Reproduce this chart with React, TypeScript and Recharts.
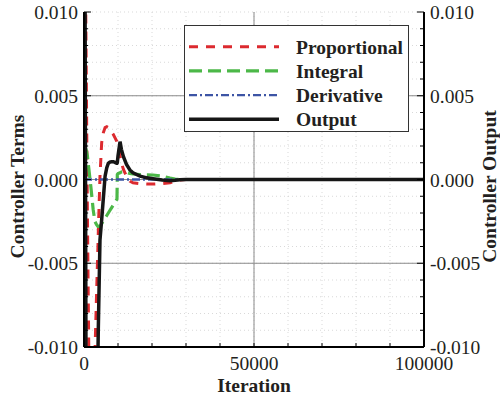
import React from 'react';
import { LineChart, Line, XAxis, YAxis, CartesianGrid, ReferenceLine, Legend } from 'recharts';

// ---------- data ----------
const iterations = [
  0, 300, 600, 1000, 1500, 2000, 2700, 3200, 3700, 4100, 4200, 4700, 5200, 5700, 6200, 6700,
  7150, 7600, 8100, 8600, 9100, 9600, 9700, 9800, 10000, 10600, 11000, 11600, 12500, 13500,
  14400, 16500, 18500, 20300, 23000, 25300, 26800, 28200, 30000, 40000, 50000, 60000, 70000,
  80000, 90000, 100000,
];
const proportional = [
  0.02, 0.015, 0.008, -0.002, -0.012, -0.02, -0.02, -0.0105, -0.0068, -0.004, -0.0032, 0.0002,
  0.0022, 0.0028, 0.0031, 0.00315, 0.0031, 0.003, 0.00285, 0.0027, 0.0025, 0.0023, 0.0022,
  0.0021, 0.002, 0.0014, 0.001, 0.0006, 0.0002, -0.0001, -0.0002, -0.00025, -0.00027, -0.00027,
  -0.00024, -0.0002, -0.0001, -0.00003, 0, 0, 0, 0, 0, 0, 0, 0,
];
const integral = [
  0.0019, 0.0019, 0.0018, 0.0014, 0.0005, -0.0004, -0.0018, -0.0025, -0.0027, -0.0028, -0.0028,
  -0.0028, -0.00264, -0.00247, -0.00231, -0.00215, -0.002, -0.00185, -0.00169, -0.00153,
  -0.00136, -0.0012, -0.00117, 0.0003, 0.00035, 0.0004, 0.00045, 0.00047, 0.00042, 0.00036,
  0.00033, 0.0003, 0.00028, 0.00027, 0.0002, 0.00008, 0.00002, 0, 0, 0, 0, 0, 0, 0, 0, 0,
];
const derivative = [
  0, 0, 0, 0, 0, 0, 0, 0, 0, 0, 0, 0, 0, 0, 0, 0, 0, 0, 0, 0, 0, 0, 0, 0, 0, 0, 0, 0, 0, 0,
  0, 0, 0, 0, 0, 0, 0, 0, 0, 0, 0, 0, 0, 0, 0, 0,
];
const output = [
  0.03, 0.012, -0.012, -0.03, -0.03, -0.03, -0.03, -0.03, -0.03, -0.0105, -0.009, -0.0036,
  -0.0024, -0.0011, 0.0002, 0.0007, 0.00097, 0.00104, 0.00106, 0.00106, 0.00102, 0.00097,
  0.00097, 0.001, 0.0014, 0.00226, 0.0018, 0.00136, 0.0009, 0.00057, 0.0004, 0.0002, 0.0001,
  0.00005, -0.00003, -0.00007, -0.00005, -0.00002, 0, 0, 0, 0, 0, 0, 0, 0,
];
const seriesNames = ['Proportional', 'Integral', 'Derivative', 'Output'];
const xTicks = [0, 10000, 20000, 30000, 40000, 50000, 60000, 70000, 80000, 90000, 100000];
const xLabelTicks = [0, 50000, 100000];
const yTicks = [
  -0.01, -0.009, -0.008, -0.007, -0.006, -0.005, -0.004, -0.003, -0.002, -0.001, 0, 0.001,
  0.002, 0.003, 0.004, 0.005, 0.006, 0.007, 0.008, 0.009, 0.01,
];
const yLabelTicks = [-0.01, -0.005, 0, 0.005, 0.01];

const data = iterations.map((it, i) => ({
  iter: it,
  p: proportional[i],
  i: integral[i],
  d: derivative[i],
  o: output[i],
}));

// ---------- styles ----------
const FONT = "'Liberation Serif', 'Times New Roman', serif";
const TEXT = '#231f20';
const RED = '#dc2a2f';
const GREEN = '#4cb848';
const BLUE = '#3d55a5';
const BLACK = '#161616';
const TICK_FS = 19.5;
const TITLE_FS = 19.5;

const series = [
  { key: 'p', name: seriesNames[0], color: RED, dash: '9 8', width: 3 },
  { key: 'i', name: seriesNames[1], color: GREEN, dash: '13 6', width: 3.2 },
  { key: 'd', name: seriesNames[2], color: BLUE, dash: '8 3 2 3', width: 2.4 },
  { key: 'o', name: seriesNames[3], color: BLACK, dash: undefined as string | undefined, width: 3.5 },
];

const textStyle: React.CSSProperties = { fontFamily: FONT };

const isLabelY = (v: number) => yLabelTicks.some((m) => Math.abs(m - v) < 1e-9);
const isLabelX = (v: number) => xLabelTicks.some((m) => Math.abs(m - v) < 1e-6);

function LeftTick(props: any) {
  const { x, y, payload } = props;
  const v = payload.value as number;
  const major = isLabelY(v);
  return (
    <g>
      <line x1={x} x2={x + (major ? 7 : 4)} y1={y} y2={y} stroke="#000" strokeWidth={1} />
      {major && (
        <text x={x - 6} y={y + 7} textAnchor="end" style={textStyle} fontSize={TICK_FS} fill={TEXT}>
          {v.toFixed(3)}
        </text>
      )}
    </g>
  );
}

function RightTick(props: any) {
  const { x, y, payload } = props;
  const v = payload.value as number;
  const major = isLabelY(v);
  return (
    <g>
      <line x1={x} x2={x - (major ? 7 : 4)} y1={y} y2={y} stroke="#000" strokeWidth={1} />
      {major && (
        <text x={x + 6} y={y + 7} textAnchor="start" style={textStyle} fontSize={TICK_FS} fill={TEXT}>
          {v.toFixed(3)}
        </text>
      )}
    </g>
  );
}

function BottomTick(props: any) {
  const { x, y, payload } = props;
  const v = payload.value as number;
  const major = isLabelX(v);
  return (
    <g>
      <line x1={x} x2={x} y1={y} y2={y - 4} stroke="#000" strokeWidth={1} />
      {major && (
        <text x={x} y={y + 22.5} textAnchor="middle" style={textStyle} fontSize={TICK_FS} fill={TEXT}>
          {String(v)}
        </text>
      )}
    </g>
  );
}

const xTitle = (props: any) => {
  const vb = props.viewBox || { x: 84, y: 347, width: 340, height: 53 };
  return (
    <text
      x={vb.x + vb.width / 2}
      y={vb.y + 45}
      textAnchor="middle"
      style={textStyle}
      fontWeight="bold"
      fontSize={TITLE_FS}
      fill={TEXT}
    >
      Iteration
    </text>
  );
};

const leftTitle = (props: any) => {
  const vb = props.viewBox || { x: 0, y: 12, width: 84, height: 335 };
  const cx = vb.x + 17;
  const cy = vb.y + vb.height / 2 + 7;
  return (
    <text
      x={cx}
      y={cy}
      transform={`rotate(-90, ${cx}, ${cy})`}
      textAnchor="middle"
      dominantBaseline="central"
      style={textStyle}
      fontWeight="bold"
      fontSize={TITLE_FS}
      fill={TEXT}
    >
      Controller Terms
    </text>
  );
};

const rightTitle = (props: any) => {
  const vb = props.viewBox || { x: 424, y: 12, width: 76, height: 335 };
  const cx = vb.x + 65;
  const cy = vb.y + vb.height / 2 + 7;
  return (
    <text
      x={cx}
      y={cy}
      transform={`rotate(-90, ${cx}, ${cy})`}
      textAnchor="middle"
      dominantBaseline="central"
      style={textStyle}
      fontWeight="bold"
      fontSize={TITLE_FS}
      fill={TEXT}
    >
      Controller Output
    </text>
  );
};

function LegendBox() {
  return (
    <svg width={225} height={107} style={{ display: 'block' }}>
      <rect x={0.5} y={0.5} width={224} height={106} fill="#fff" stroke="#333" strokeWidth={1} />
      {series.map((s, idx) => {
        const cy = 21.7 + idx * 24.2;
        return (
          <g key={s.key}>
            <line
              x1={5}
              x2={95}
              y1={cy}
              y2={cy}
              stroke={s.color}
              strokeWidth={s.width}
              strokeDasharray={s.dash}
            />
            <text
              x={112}
              y={cy + 7}
              style={textStyle}
              fontWeight="bold"
              fontSize={TITLE_FS}
              fill={TEXT}
            >
              {s.name}
            </text>
          </g>
        );
      })}
    </svg>
  );
}

export default function App() {
  return (
    <div style={{ position: 'absolute', left: 0, top: 0, width: 500, height: 400, background: '#fff', fontFamily: FONT }}>
      <LineChart width={500} height={400} data={data} margin={{ top: 12, right: 0, bottom: 0, left: 0 }}>
        <CartesianGrid
          xAxisId="b"
          yAxisId="l"
          stroke="#cfcfcf"
          strokeWidth={0.8}
          strokeDasharray="1 3"
        />
        <XAxis
          xAxisId="b"
          dataKey="iter"
          type="number"
          domain={[0, 100000]}
          ticks={xTicks}
          interval={0}
          allowDataOverflow
          height={53}
          tickSize={0}
          tickMargin={0}
          tickLine={false}
          tick={<BottomTick />}
          axisLine={{ stroke: '#000', strokeWidth: 2 }}
          label={xTitle}
        />
        <XAxis
          xAxisId="t"
          orientation="top"
          dataKey="iter"
          type="number"
          domain={[0, 100000]}
          height={0}
          tick={false}
          tickLine={false}
          axisLine={{ stroke: '#000', strokeWidth: 2 }}
        />
        <YAxis
          yAxisId="l"
          type="number"
          domain={[-0.01, 0.01]}
          ticks={yTicks}
          interval={0}
          allowDataOverflow
          width={84}
          tickSize={0}
          tickMargin={0}
          tickLine={false}
          tick={<LeftTick />}
          axisLine={{ stroke: '#000', strokeWidth: 2 }}
          label={leftTitle}
        />
        <YAxis
          yAxisId="r"
          orientation="right"
          type="number"
          domain={[-0.01, 0.01]}
          ticks={yTicks}
          interval={0}
          allowDataOverflow
          width={76}
          tickSize={0}
          tickMargin={0}
          tickLine={false}
          tick={<RightTick />}
          axisLine={{ stroke: '#000', strokeWidth: 2 }}
          label={rightTitle}
        />
        {yLabelTicks
          .filter((v) => Math.abs(v) < 0.0099)
          .map((v) => (
            <ReferenceLine key={'h' + v} xAxisId="b" yAxisId="l" y={v} stroke="#8a8a8a" strokeWidth={1} />
          ))}
        <ReferenceLine xAxisId="b" yAxisId="l" x={50000} stroke="#8a8a8a" strokeWidth={1} />
        <Legend
          layout="vertical"
          verticalAlign="middle"
          align="center"
          content={() => <LegendBox />}
          wrapperStyle={{ position: 'absolute', left: 184, top: 25, width: 225, height: 107 }}
        />
        {series.map((s) => (
          <Line
            key={s.key}
            xAxisId="b"
            yAxisId="l"
            type="linear"
            dataKey={s.key}
            name={s.name}
            stroke={s.color}
            strokeWidth={s.width}
            strokeDasharray={s.dash}
            dot={false}
            activeDot={false}
            isAnimationActive={false}
          />
        ))}
      </LineChart>
    </div>
  );
}
